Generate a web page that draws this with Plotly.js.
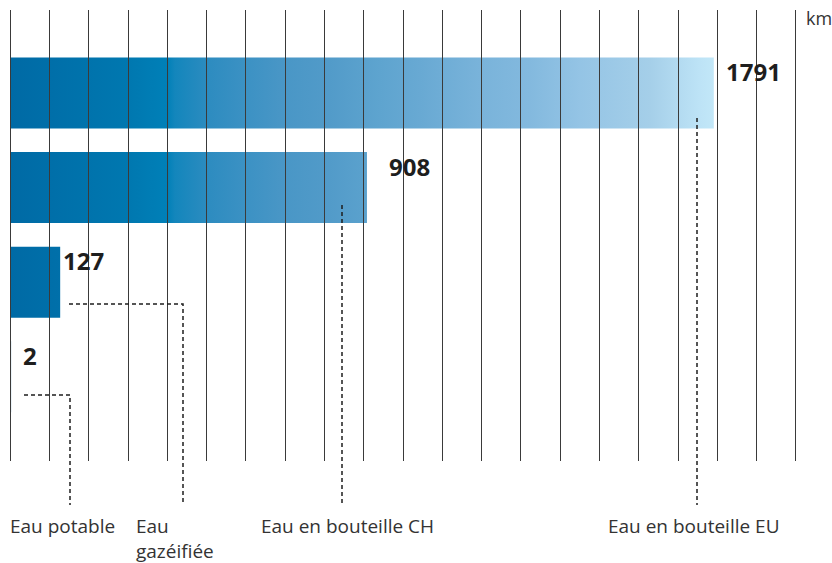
<!DOCTYPE html>
<html>
<head>
<meta charset="utf-8">
<script src="https://cdn.plot.ly/plotly-3.0.1.min.js"></script>
<style>html,body{margin:0;padding:0;background:#fff;}#chart{width:832px;height:563px;}</style>
</head>
<body>
<div id="chart"></div>
<script>
// ---- data ----
const categories = ['Eau en bouteille EU', 'Eau en bouteille CH', 'Eau gazéifiée', 'Eau potable'];
const values = [1791, 908, 127, 2];
const valueLabels = ['1791', '908', '127', '2'];
const unitLabel = 'km';
const gridStep = 100;
const axisRange = [-3.3, 2002.8];

// ---- style ----
const gradientScale = [
  [0.000, '#006aa5'],
  [0.170, '#0078b0'],
  [0.223, '#0080b8'],
  [0.234, '#1386bc'],
  [0.284, '#2e8cc0'],
  [0.340, '#3d92c4'],
  [0.383, '#4896c6'],
  [0.454, '#529bc9'],
  [0.525, '#5ea4cf'],
  [0.582, '#68a9d3'],
  [0.667, '#79b3da'],
  [0.738, '#83b9de'],
  [0.810, '#94c4e5'],
  [0.909, '#a5cfe9'],
  [0.980, '#bde3f6'],
  [1.000, '#c2e7f8']
];
const halfH = 0.375;
const labelXShift = [10, 20, 1, 10];
const font = '"Open Sans", "Noto Sans", sans-serif';

// plot area in pixels (for decorations)
const L = 9, T = 10, W = 788, H = 451;
const fx = px => (px - L) / W;
const fy = py => (T + H - py) / H;

const traces = values.map((v, i) => ({
  type: 'scatter',
  mode: 'lines',
  x: [0, v, v, 0, 0],
  y: [i - halfH, i - halfH, i + halfH, i + halfH, i - halfH],
  fill: 'toself',
  line: {width: 0, color: 'rgba(0,0,0,0)'},
  fillgradient: {type: 'horizontal', colorscale: gradientScale, start: 0, stop: values[0]},
  hoverinfo: 'skip',
  name: categories[i],
  showlegend: false
}));

const dashLine = {color: '#1e1e1e', width: 1.5, dash: '4px,3px'};
const leaders = [
  [[24, 395], [70, 395], [70, 505]],
  [[69, 304], [183, 304], [183, 505]],
  [[342, 205], [342, 505]],
  [[697, 118], [697, 505]]
];
const shapes = leaders.map(pts => ({
  type: 'path', xref: 'paper', yref: 'paper',
  path: pts.map((p, k) => (k ? 'L' : 'M') + fx(p[0]) + ',' + fy(p[1])).join(' '),
  line: dashLine
}));

const annotations = [];
values.forEach((v, i) => {
  annotations.push({
    x: v, y: i - halfH, xref: 'x', yref: 'y',
    text: '<b>' + valueLabels[i] + '</b>', showarrow: false,
    xanchor: 'left', yanchor: 'middle', xshift: labelXShift[i], yshift: -14,
    font: {family: font, size: 24, color: '#1e1e1e'}
  });
});
const catPos = [
  {x: 693.5, y: 511, xa: 'center', text: categories[0]},
  {x: 347.5, y: 511, xa: 'center', text: categories[1]},
  {x: 134, y: 511, xa: 'left', text: 'Eau<br>gazéifiée'},
  {x: 8, y: 511, xa: 'left', text: categories[3]}
];
catPos.forEach(c => annotations.push({
  x: fx(c.x), y: fy(c.y), xref: 'paper', yref: 'paper',
  text: c.text, showarrow: false, xanchor: c.xa, yanchor: 'top', align: 'left',
  font: {family: font, size: 19, color: '#333'}
}));
annotations.push({
  x: fx(804), y: fy(18), xref: 'paper', yref: 'paper', text: unitLabel,
  showarrow: false, xanchor: 'left', yanchor: 'middle',
  font: {family: font, size: 18, color: '#333'}
});

const layout = {
  width: 832, height: 563,
  margin: {l: L, r: 832 - L - W, t: T, b: 563 - T - H, pad: 0},
  paper_bgcolor: '#fff', plot_bgcolor: '#fff',
  showlegend: false,
  xaxis: {
    range: axisRange, tick0: 0, dtick: gridStep,
    ticks: 'inside', ticklen: H, tickwidth: 1, tickcolor: '#3a3a3a',
    showticklabels: false, showgrid: false, zeroline: false, showline: false,
    layer: 'above traces', fixedrange: true
  },
  yaxis: {
    range: [3.89, -0.877], showgrid: false, zeroline: false, showline: false,
    showticklabels: false, ticks: '', fixedrange: true
  },
  shapes: shapes,
  annotations: annotations
};

Plotly.newPlot('chart', traces, layout, {displayModeBar: false, staticPlot: true});
</script>
</body>
</html>
